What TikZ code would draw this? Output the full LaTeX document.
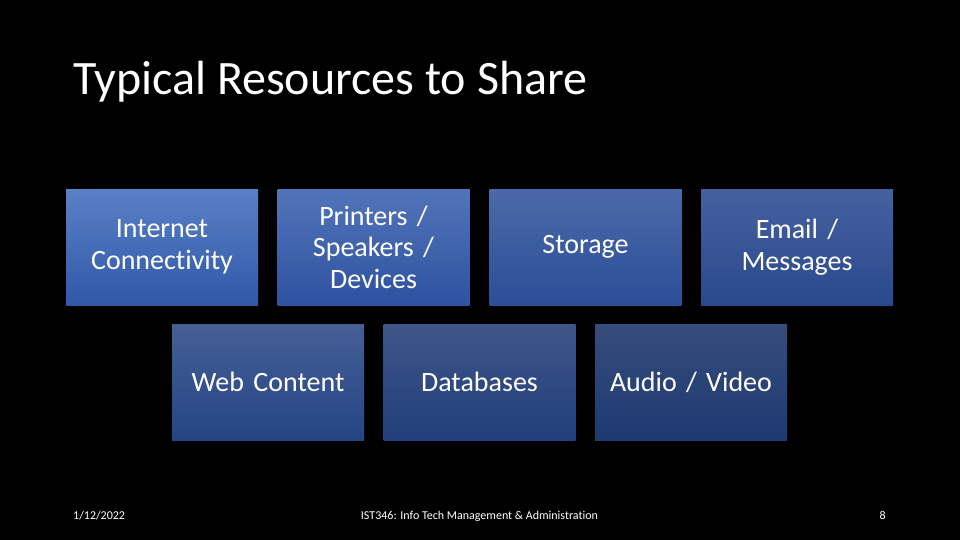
\documentclass[tikz,border=0pt]{standalone}
\usepackage{fontspec}
\setmainfont[Ligatures=NoCommon]{Carlito}
\usepackage{xcolor}
\usetikzlibrary{positioning}
\definecolor{bxAt}{HTML}{5A80C6}\definecolor{bxAb}{HTML}{3058A8}
\definecolor{bxBt}{HTML}{5374B9}\definecolor{bxBb}{HTML}{2D52A0}
\definecolor{bxCt}{HTML}{4B69A9}\definecolor{bxCb}{HTML}{2B4E97}
\definecolor{bxDt}{HTML}{46609F}\definecolor{bxDb}{HTML}{29498D}
\definecolor{bxEt}{HTML}{465F95}\definecolor{bxEb}{HTML}{244585}
\definecolor{bxFt}{HTML}{3E5588}\definecolor{bxFb}{HTML}{213F7B}
\definecolor{bxGt}{HTML}{364C7C}\definecolor{bxGb}{HTML}{1E3A72}
\begin{document}
\begin{tikzpicture}[x=1pt,y=-1pt,text=white]
\tikzset{res/.style={minimum width=192pt,minimum height=116pt,inner sep=2pt,
align=center,font=\fontsize{28}{31.5}\selectfont,text width=185pt},
foot/.style={font=\fontsize{12}{14}\selectfont,inner sep=0pt,anchor=base}}
\fill[black] (0,0) rectangle (960,540);
\node[anchor=base west,inner sep=0pt,font=\fontsize{48}{56}\selectfont] (title) at (73,95){Typical Resources to Share};
% top row
\node[res,top color=bxAt,bottom color=bxAb] (inet) at (162,247){Internet\\Connectivity};
\node[res,top color=bxBt,bottom color=bxBb] (print) at (373.5,247){Printers /\\Speakers /\\Devices};
\node[res,top color=bxCt,bottom color=bxCb] (store) at (585.5,247){Storage};
\node[res,top color=bxDt,bottom color=bxDb] (mail) at (797,247){Email /\\Messages};
% bottom row
\node[res,top color=bxEt,bottom color=bxEb] (web) at (268,382){Web Content};
\node[res,top color=bxFt,bottom color=bxFb] (db) at (479.5,382){Databases};
\node[res,top color=bxGt,bottom color=bxGb] (av) at (691,382){Audio / Video};
% footer
\node[foot,anchor=base west] (date) at (73,519){1/12/2022};
\node[foot] (course) at (479.5,519){IST346: Info Tech Management \& Administration};
\node[foot,anchor=base east] (num) at (886,519){8};
\end{tikzpicture}
\end{document}
